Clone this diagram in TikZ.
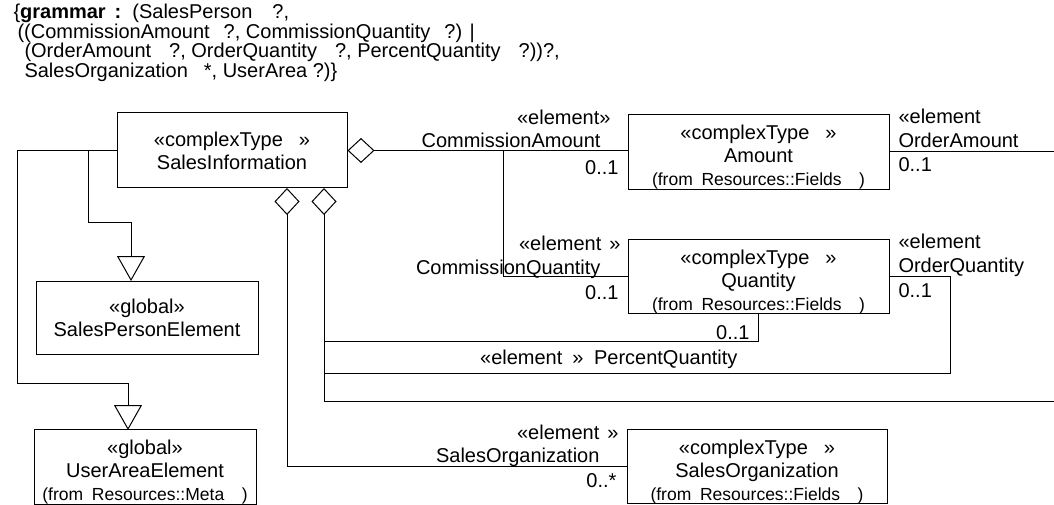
\documentclass[tikz,border=0pt]{standalone}
\usepackage{fontspec}
\setmainfont{Liberation Sans}
\usetikzlibrary{arrows.meta}
\newcommand\msz{\fontsize{20}{23}\selectfont}
\newcommand\ssz{\fontsize{17.5}{22}\selectfont}
\newcommand\topstrut{\rule{0pt}{25pt}}
\begin{document}
\begin{tikzpicture}[x=1pt,y=-1pt,line width=1pt,
  box/.style={draw,line width=1pt,inner sep=0pt,align=center,font=\msz},
  lbl/.style={inner sep=0pt,font=\msz,text height=14pt,text depth=0pt},
  agg/.style={{Diamond[open,length=27pt,width=25pt]}-},
  gen/.style={-{Triangle[open,length=25pt,width=28pt]}}]
\useasboundingbox (0,0) rectangle (1054,505);
% header
\node[inner sep=0pt,anchor=north west,align=left,font=\fontsize{20}{19.5}\selectfont] (hdr) at (13,4)
 {\{\textbf{grammar\hspace{0.45em}:}\hspace{0.55em}(SalesPerson\hspace{1.0em}?,\\
  \hspace*{4pt}((CommissionAmount\hspace{0.7em}?, CommissionQuantity\hspace{0.7em}?) |\\
  \hspace*{11pt}(OrderAmount\hspace{0.9em}?, OrderQuantity\hspace{0.9em}?, PercentQuantity\hspace{0.9em}?))?,\\
  \hspace*{11pt}SalesOrganization\hspace{0.8em}*, UserArea ?)\}};
% boxes
\node[box,minimum width=230pt,minimum height=75pt] (SI) at (232,150.5) {«complexType\hspace{0.8em}»\\SalesInformation};
\node[box,minimum width=222pt,minimum height=73pt] (SPE) at (147,317.5) {«global»\\SalesPersonElement};
\node[box,minimum width=222pt,minimum height=74pt] (UAE) at (145,467) {\topstrut«global»\\UserAreaElement\\{\ssz (from\hspace{0.5em}Resources::Meta\hspace{1em})}};
\node[box,minimum width=261pt,minimum height=74pt] (AMT) at (758.5,152) {\topstrut«complexType\hspace{0.8em}»\\Amount\\{\ssz (from\hspace{0.5em}Resources::Fields\hspace{1em})}};
\node[box,minimum width=261pt,minimum height=74pt] (QTY) at (758.5,276.5) {\topstrut«complexType\hspace{0.8em}»\\Quantity\\{\ssz (from\hspace{0.5em}Resources::Fields\hspace{1em})}};
\node[box,minimum width=260pt,minimum height=73pt] (SO) at (757,466.5) {\topstrut«complexType\hspace{0.8em}»\\SalesOrganization\\{\ssz (from\hspace{0.5em}Resources::Fields\hspace{1em})}};
% labels
\node[lbl,anchor=east] (ca1) at (611,118) {«element»};
\node[lbl,anchor=east] (ca2) at (601,141) {CommissionAmount};
\node[lbl,anchor=east] (ca3) at (619,168) {0..1};
\node[lbl,anchor=west] (oa1) at (898,117) {«element};
\node[lbl,anchor=west] (oa2) at (898,141) {OrderAmount};
\node[lbl,anchor=west] (oa3) at (898,165) {0..1};
\node[lbl,anchor=east] (cq1) at (621,243) {«element\hspace{0.4em}»};
\node[lbl,anchor=east] (cq2) at (601,267) {CommissionQuantity};
\node[lbl,anchor=east] (cq3) at (619,292) {0..1};
\node[lbl,anchor=west] (oq1) at (898,241) {«element};
\node[lbl,anchor=west] (oq2) at (898,265) {OrderQuantity};
\node[lbl,anchor=west] (oq3) at (898,290) {0..1};
\node[lbl,anchor=east] (pq1) at (750,332) {0..1};
\node[lbl,anchor=east] (pq2) at (738,357) {«element\hspace{0.5em}»\hspace{0.25em} PercentQuantity};
\node[lbl,anchor=east] (so1) at (619,432) {«element\hspace{0.4em}»};
\node[lbl,anchor=east] (so2) at (600,455) {SalesOrganization};
\node[lbl,anchor=east] (so3) at (617,480) {0..*};
% connector points
\coordinate (j1) at (503,150.5);
\coordinate (r1) at (1054,152);
\coordinate (d1) at (287,188);
\coordinate (d2) at (324,188);
\coordinate (r2) at (1054,401);
\coordinate (jp) at (324,341);
\coordinate (jo) at (324,373);
\coordinate (oq) at (950,373);
\coordinate (l1) at (17,383);
\coordinate (ua) at (128,430);
\coordinate (l2a) at (88,150.5);
\coordinate (l2) at (88,222);
\coordinate (sp) at (131,281);
% connectors
\draw[agg] (SI.east) -- (SI.east -| AMT.west);
\draw (j1) |- (QTY.west);
\draw (AMT.east) -- (AMT.east -| r1);
\draw[agg] (d1) |- (SO.west);
\draw[agg] (d2) |- (r2);
\draw (QTY.south) |- (jp);
\draw (QTY.east) -| (oq) -- (jo);
\draw[gen] (SI.west) -| (l1) -| (ua);
\draw[gen] (l2a) -- (l2) -| (sp);
\end{tikzpicture}
\end{document}
